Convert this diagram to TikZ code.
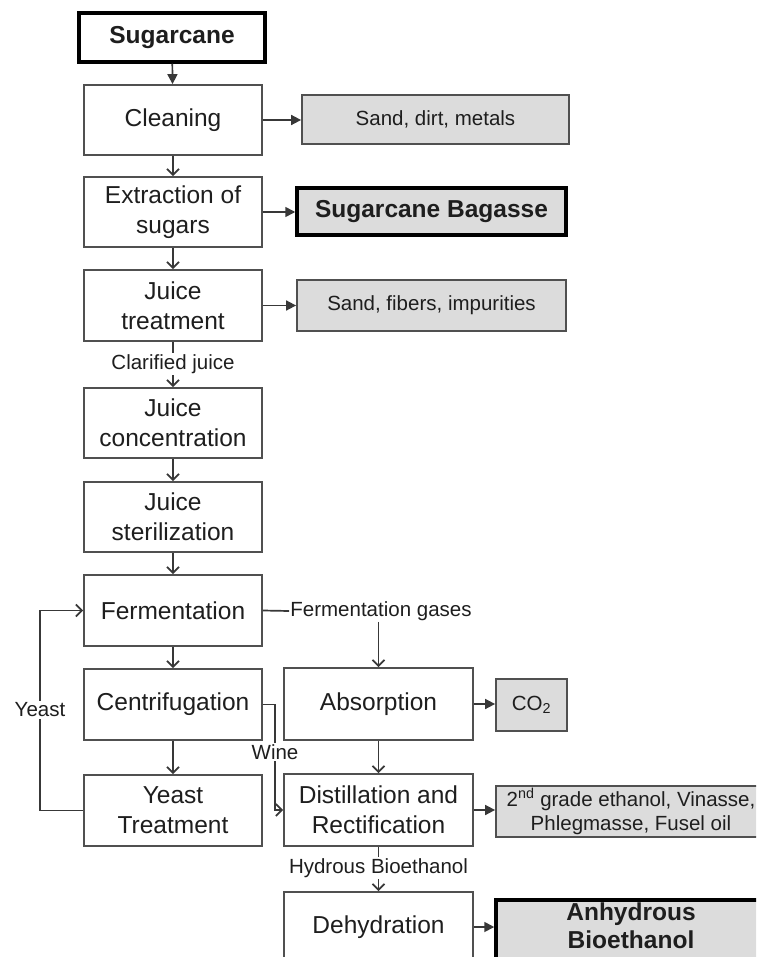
\documentclass[tikz,border=0pt]{standalone}
\usepackage{fontspec}
\setmainfont{Liberation Sans}
\usetikzlibrary{arrows.meta}
\definecolor{ln}{HTML}{383838}
\definecolor{bx}{HTML}{505050}
\definecolor{gfill}{HTML}{DCDCDC}
\definecolor{txt}{HTML}{1E1E1E}
\begin{document}
\begin{tikzpicture}[x=1pt,y=-1pt,
  every node/.style={text=txt},
  proc/.style={draw=bx, line width=1.8pt, fill=white, minimum width=178pt, minimum height=70pt, align=center, inner sep=2pt, font=\fontsize{24.5}{30}\selectfont},
  outbox/.style={draw=bx, line width=1.8pt, fill=gfill, align=center, inner sep=2pt, font=\fontsize{20.5}{24}\selectfont},
  outbold/.style={draw=black, line width=3.5pt, fill=gfill, align=center, inner sep=2pt, font=\fontsize{24.5}{28}\selectfont\bfseries},
  lbl/.style={fill=white, inner sep=1.5pt, font=\fontsize{20.5}{24}\selectfont},
  flow/.style={draw=ln, line width=1.7pt, -{Straight Barb[length=6pt,width=12pt]}},
  feed/.style={draw=ln, line width=1.7pt, -{Triangle[length=10pt,width=10pt]}},
  wire/.style={draw=ln, line width=1.7pt}]
\useasboundingbox (0,0) rectangle (756,957);
\clip (0,0) rectangle (756,957);
\fill[white] (0,0) rectangle (756,957);

% main column
\node[proc, draw=black, line width=3.5pt, minimum width=186pt, minimum height=49pt, font=\fontsize{24.5}{30}\selectfont\bfseries] (cane) at (172,37.5) {Sugarcane};
\node[proc] (clean) at (173,120) {Cleaning};
\node[proc] (extr) at (173,212) {Extraction of\\sugars};
\node[proc, minimum height=71pt] (jtreat) at (173,305.5) {Juice\\treatment};
\node[proc] (jconc) at (173,423) {Juice\\concentration};
\node[proc] (jster) at (173,517) {Juice\\sterilization};
\node[proc, minimum height=71pt] (ferm) at (173,610.5) {Fermentation};
\node[proc, minimum height=71pt] (centr) at (173,704.5) {Centrifugation};
\node[proc, minimum height=71pt] (ytreat) at (173,810.5) {Yeast\\Treatment};

% second column
\node[proc, minimum width=189pt, minimum height=72pt] (absorb) at (378.5,704) {Absorption};
\node[proc, minimum width=189pt, minimum height=72pt] (distil) at (378.5,810) {Distillation and\\Rectification};
\node[proc, minimum width=189pt] (dehyd) at (378.5,927) {Dehydration};

% outputs
\node[outbox, minimum width=267pt, minimum height=49pt] (sdm) at (435.5,119.5) {Sand, dirt, metals};
\node[outbold, minimum width=269pt, minimum height=47pt] (bagasse) at (431.5,211.5) {Sugarcane Bagasse};
\node[outbox, minimum width=269pt, minimum height=51pt] (sfi) at (431.5,305.5) {Sand, fibers, impurities};
\node[outbox, minimum width=71pt, minimum height=52pt] (co2) at (531.5,705) {CO\textsubscript{2}};
\node[outbox, minimum width=270pt, minimum height=51pt] (byprod) at (631,811.5) {2\textsuperscript{nd} grade ethanol, Vinasse,\\Phlegmasse, Fusel oil};
\node[outbold, minimum width=270pt, minimum height=62pt] (anhyd) at (631,931) {};
\node[align=center, inner sep=0pt, font=\fontsize{24.5}{28}\selectfont\bfseries] (anhydtxt) at (631,926) {Anhydrous\\Bioethanol};

% main flow
\draw[feed] (cane) -- (clean);
\draw[flow] (clean) -- (extr);
\draw[flow] (extr) -- (jtreat);
\draw[flow] (jtreat) -- (jconc);
\node[lbl] (clar) at (173,364) {Clarified juice};
\draw[flow] (jconc) -- (jster);
\draw[flow] (jster) -- (ferm);
\draw[flow] (ferm) -- (centr);
\draw[flow] (centr) -- (ytreat);

% side outputs
\draw[feed] (clean.east) -- (clean.east -| sdm.west);
\draw[feed] (extr.east) -- (extr.east -| bagasse.west);
\draw[feed] (jtreat.east) -- (jtreat.east -| sfi.west);
\draw[feed] (absorb.east) -- (absorb.east -| co2.west);
\draw[feed] (distil.east) -- (distil.east -| byprod.west);
\draw[feed] (dehyd.east) -- (dehyd.east -| anhyd.west);

% fermentation gases
\node[inner sep=1pt, font=\fontsize{20.5}{24}\selectfont] (fgas) at (381,611) {Fermentation gases};
\draw[wire] (ferm.east) -- (fgas.west);
\draw[flow] (fgas.south -| absorb.north) -- (absorb.north);
\draw[flow] (absorb) -- (distil);

% yeast loop
\coordinate (yk) at (40,710);
\draw[flow] (ytreat.west) -| (yk) |- (ferm.west);
\node[lbl] (yeastl) at (yk) {Yeast};

% wine
\coordinate (wk) at (275,752);
\draw[flow] (centr.east) -| (wk) |- (distil.west);
\node[lbl] (winel) at (wk) {Wine};

% hydrous
\draw[flow] (distil) -- (dehyd);
\node[lbl] (hyd) at (378.5,868) {Hydrous Bioethanol};
\end{tikzpicture}
\end{document}
